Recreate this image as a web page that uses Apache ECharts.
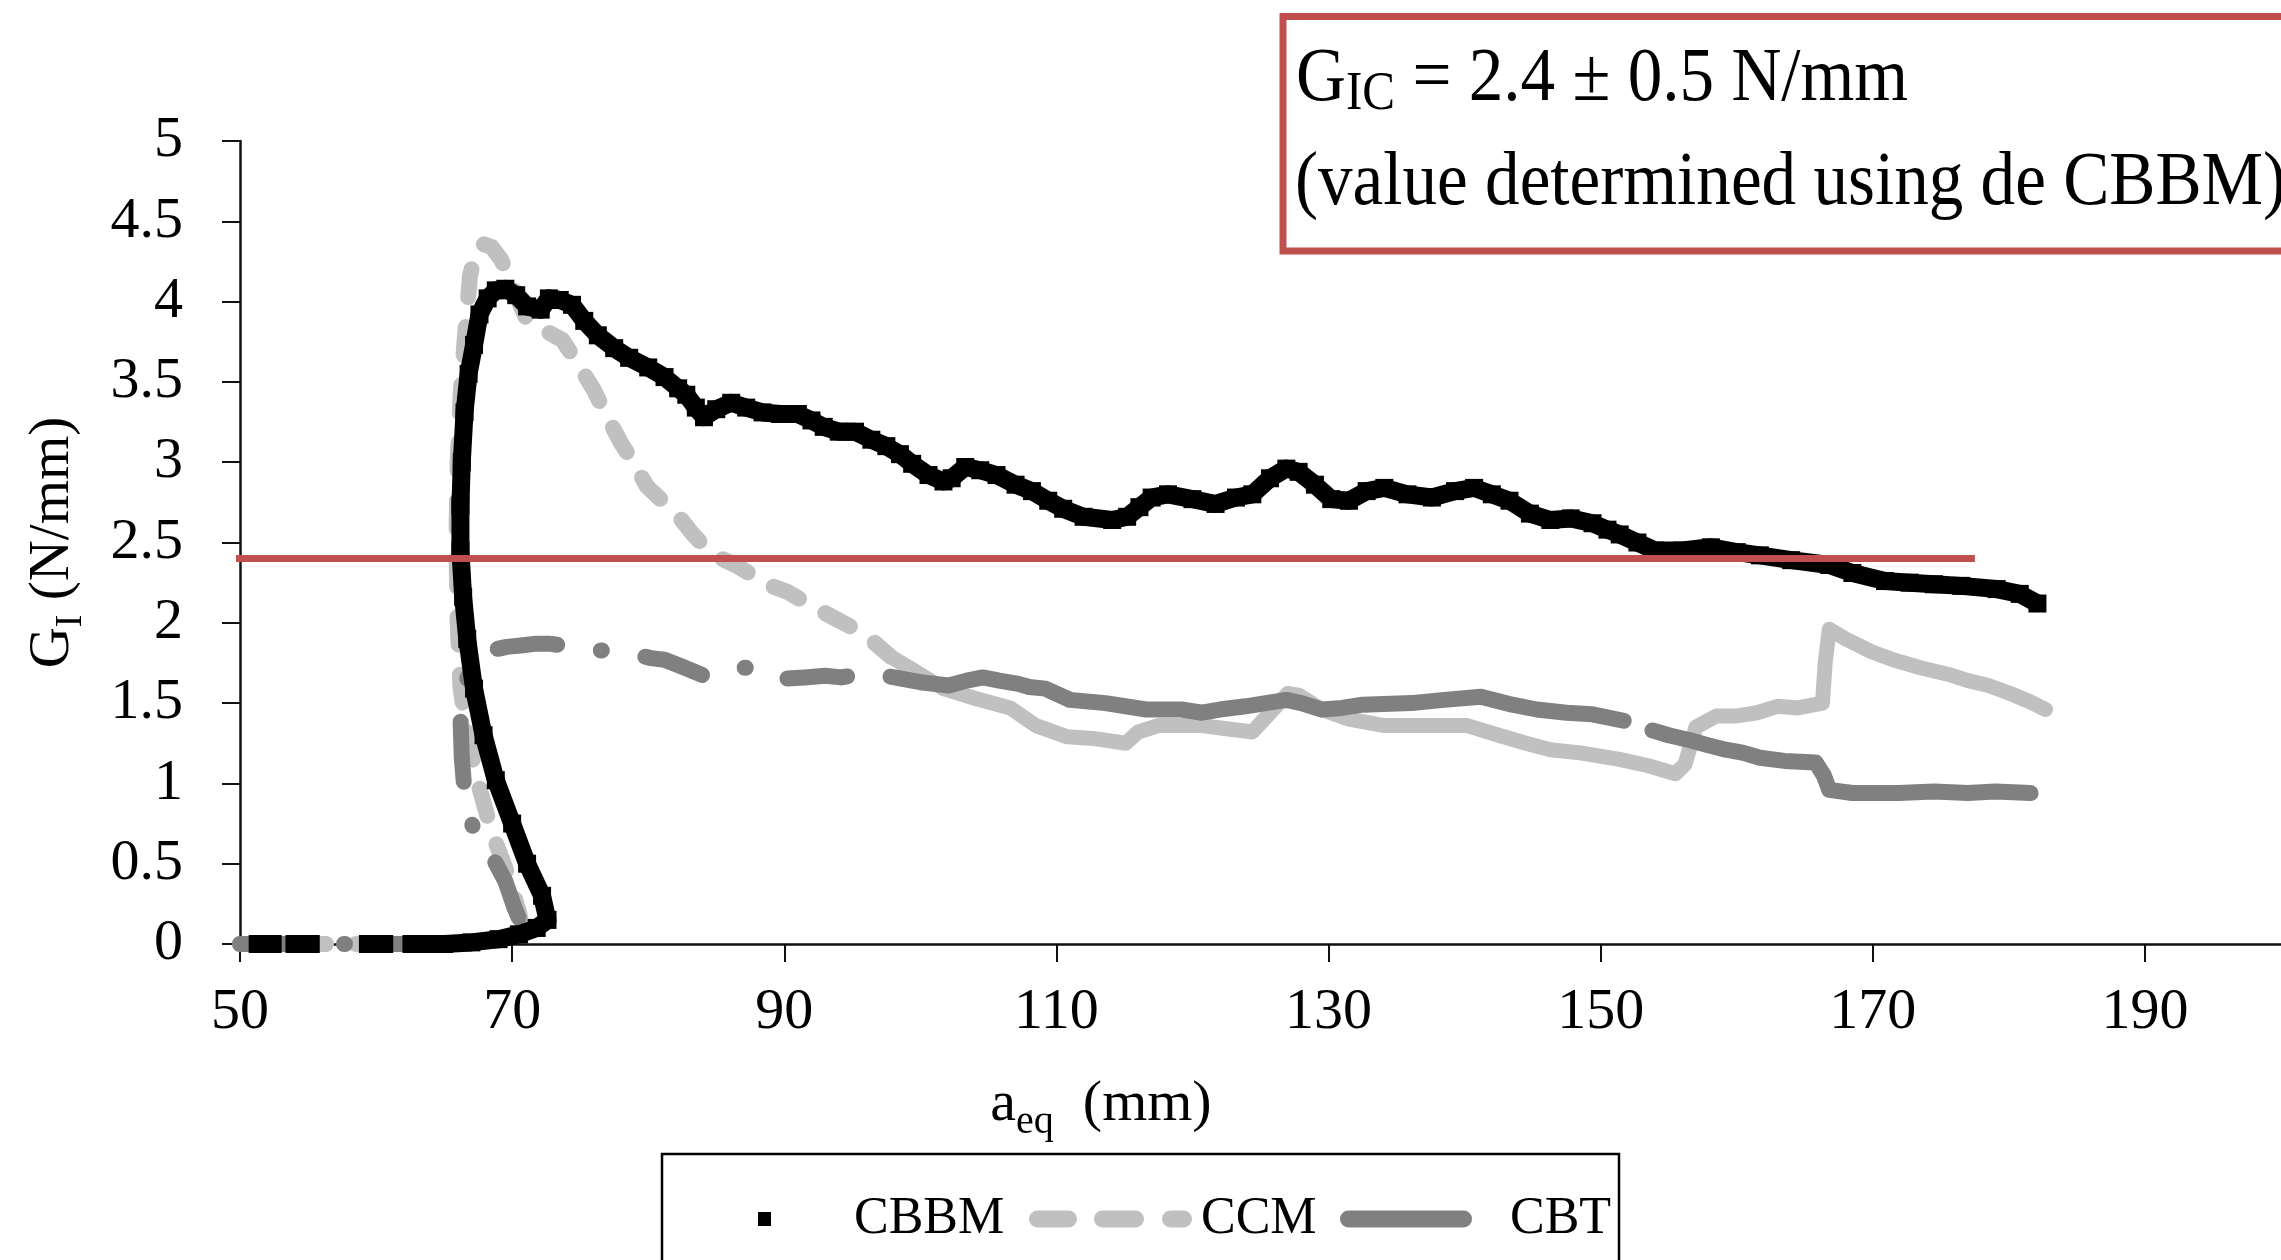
<!DOCTYPE html>
<html><head><meta charset="utf-8">
<script src="https://cdn.jsdelivr.net/npm/echarts@6/dist/echarts.min.js"></script>
<style>html,body{margin:0;padding:0;background:#fff}#c{width:2281px;height:1260px}</style>
</head><body><div id="c"></div>
<script>
// ---------- data ----------
const xTicks = [50, 70, 90, 110, 130, 150, 170, 190];
const gIC = 2.4;
const refLineX = [46.5, 177.5];

// CBBM (black squares)
const cbbmX = [51.3, 52.4, 53.2, 54.0, 55.2, 57.3, 59.4, 60.6, 61.6,
  62.6, 65.0, 67.0, 69.0, 70.5, 71.8, 72.6, 72.2, 71.1, 70.0, 68.8, 67.9, 67.2, 66.7, 66.4, 66.2, 66.2,
  66.3, 66.5, 66.8, 67.2, 67.6, 68.2, 68.8, 69.5, 70.3, 71.1, 72.1, 72.7, 73.5, 74.4, 75.3, 76.3, 77.5,
  78.6, 80.0, 81.2, 82.2, 82.8, 83.5, 84.1, 85.0, 86.1, 87.2, 88.4, 89.7, 91.0, 92.0, 92.9, 94.0, 95.2,
  96.4, 97.5, 98.5, 99.4, 100.6, 101.7, 102.3, 103.3, 104.4, 105.6, 107.0, 108.2, 109.4, 110.5, 112.0,
  114.1, 115.2, 116.1, 117.0, 118.2, 120.0, 121.7, 123.2, 124.4, 125.7, 126.9, 127.8, 129.0, 130.2,
  131.5, 132.8, 134.1, 135.8, 137.6, 139.3, 140.7, 142.0, 143.3, 144.8, 146.3, 147.8, 149.4, 150.5,
  151.4, 152.7, 154.0, 156.0, 158.1, 160.0, 161.7, 164.0, 166.8, 168.5, 170.9, 172.7, 174.5, 176.5,
  179.1, 180.8, 182.1];
const cbbmY = [0, 0, null, 0, 0, null, 0, 0, null,
  0, 0, 0.01, 0.03, 0.06, 0.1, 0.15, 0.3, 0.5, 0.75, 1.02, 1.3, 1.59, 1.9, 2.16, 2.45, 2.73,
  3.0, 3.31, 3.55, 3.73, 3.92, 4.02, 4.07, 4.08, 4.04, 3.97, 3.95, 4.02, 4.01, 3.98, 3.88, 3.79, 3.71,
  3.65, 3.59, 3.53, 3.46, 3.42, 3.34, 3.28, 3.33, 3.37, 3.34, 3.31, 3.30, 3.30, 3.26, 3.22, 3.19, 3.19,
  3.14, 3.10, 3.05, 2.99, 2.92, 2.88, 2.90, 2.97, 2.95, 2.92, 2.86, 2.82, 2.76, 2.71, 2.66,
  2.64, 2.66, 2.72, 2.78, 2.80, 2.77, 2.74, 2.78, 2.80, 2.90, 2.96, 2.94, 2.86, 2.77,
  2.76, 2.82, 2.84, 2.80, 2.78, 2.82, 2.84, 2.80, 2.76, 2.68, 2.64, 2.65, 2.62, 2.58,
  2.55, 2.50, 2.45, 2.45, 2.47, 2.44, 2.42, 2.39, 2.36, 2.31, 2.26, 2.25, 2.24, 2.23,
  2.21, 2.18, 2.12];

// CCM (light grey, dashed) - early dashed portion and later dense portion
const ccmDashX = [50, 56, 62, 66, 69, 70.8, 70.5, 69.6, 68.5, 67.5, 66.7, 66.2, 66.0, 65.9, 66.0, 66.2,
  66.5, 66.9, 67.3, 67.8, 68.5, 69.2, 69.8, 70.5, 71.1, 72.4, 73.7, 75.0, 76.0, 77.0, 78.0, 78.9, 79.9,
  80.9, 81.9, 83.2, 84.4, 85.4, 86.4, 87.4, 88.4, 90.3, 91.9, 93.9, 95.9, 97.8];
const ccmDashY = [0, 0, 0, 0, 0.02, 0.08, 0.2, 0.45, 0.7, 1.0, 1.3, 1.6, 2.0, 2.5, 3.0, 3.4,
  3.75, 4.16, 4.3, 4.36, 4.34, 4.26, 4.15, 4.0, 3.88, 3.82, 3.76, 3.59, 3.45, 3.28, 3.12, 3.0, 2.85,
  2.77, 2.70, 2.56, 2.45, 2.40, 2.36, 2.31, 2.25, 2.19, 2.11, 2.02, 1.93, 1.79];
const ccmSolidX = [97.8, 99.4, 101.7, 104.0, 106.6, 108.5, 110.8, 112.7, 115.1, 116.0, 117.5, 120.7,
  122.5, 124.4, 125.5, 127.0, 127.8, 129.5, 131.5, 134.1, 137.0, 140.2, 142.5, 144.5, 146.3, 148.5,
  151.4, 153.5, 155.5, 156.2, 157.0, 158.5, 160.0, 161.5, 163.0, 164.5, 166.3, 166.5, 166.8, 168.0,
  169.9, 171.5, 173.5, 175.5, 177.0, 178.5, 180.1, 181.5, 182.7];
const ccmSolidY = [1.79, 1.71, 1.59, 1.53, 1.47, 1.36, 1.29, 1.28, 1.25, 1.32, 1.36, 1.36,
  1.34, 1.32, 1.42, 1.56, 1.55, 1.46, 1.40, 1.36, 1.36, 1.36, 1.30, 1.25, 1.21, 1.19,
  1.15, 1.11, 1.06, 1.12, 1.35, 1.42, 1.42, 1.44, 1.48, 1.47, 1.50, 1.75, 1.96, 1.90,
  1.82, 1.77, 1.72, 1.68, 1.64, 1.61, 1.56, 1.51, 1.46];

// CBT (dark grey, dash-dot) - early dash-dot portion and later dense portion
const cbtDashX = [50, 56, 62, 67, 69.5, 70.8, 70.2, 69.5, 68.5, 67.4, 66.9, 66.5, 66.3, 66.2, 66.5,
  66.9, 67.6, 68.5, 69.6, 70.8, 71.8, 72.7, 74.5, 76.2, 77.7, 79.2, 80.2, 81.2, 82.7, 84.1, 86.0,
  87.7, 88.7, 89.7, 91.5, 93.0, 94.2, 96.2, 98.1];
const cbtDashY = [0, 0, 0, 0, 0.03, 0.1, 0.22, 0.39, 0.55, 0.65, 0.79, 0.95, 1.16, 1.42, 1.6,
  1.71, 1.78, 1.83, 1.85, 1.86, 1.87, 1.87, 1.85, 1.83, 1.82, 1.80, 1.78, 1.77, 1.72, 1.67, 1.72,
  1.72, 1.68, 1.65, 1.66, 1.67, 1.66, 1.69, 1.66];
const cbtSolidX = [98.1, 100.0, 102.1, 103.4, 104.6, 105.8, 107.2, 108.0, 109.2, 111.0, 113.6, 116.6,
  119.2, 120.7, 122.0, 123.9, 126.9, 128.0, 129.5, 131.0, 132.5, 136.1, 138.5, 141.2, 143.5, 145.3,
  147.5, 149.4, 151.7, 152.7, 153.8, 155.0, 156.5, 157.8, 159.2, 160.5, 161.7, 163.5, 165.8, 166.4,
  166.8, 168.5, 171.9, 174.5, 177.0, 179.0, 181.6];
const cbtSolidY = [1.66, 1.63, 1.61, 1.64, 1.66, 1.64, 1.62, 1.60, 1.59, 1.52, 1.50, 1.46,
  1.46, 1.44, 1.46, 1.48, 1.52, 1.50, 1.46, 1.47, 1.49, 1.50, 1.52, 1.54, 1.49, 1.46,
  1.44, 1.43, 1.39, null, 1.33, 1.30, 1.27, 1.24, 1.21, 1.19, 1.16, 1.14, 1.13, 1.05,
  0.96, 0.94, 0.94, 0.95, 0.94, 0.95, 0.94];

// ---------- build ----------
const pairs = (xs, ys) => xs.map((x, i) => [x, ys[i] == null ? '-' : ys[i]]);
const SERIF = "'Liberation Serif','Times New Roman',serif";
const C_CBBM = '#000000', C_CCM = '#c0c0c0', C_CBT = '#808080', C_RED = '#c0504d';

const chart = echarts.init(document.getElementById('c'), null, {renderer: 'canvas'});

const dashPath = (segs, h) => {
  const r = h / 2;
  return 'path://' + segs.map(([a, b]) =>
    `M${a + r},0 L${b - r},0 A${r},${r} 0 0 1 ${b - r},${h} L${a + r},${h} A${r},${r} 0 0 1 ${a + r},0 Z`
  ).join(' ');
};

const legendBase = {
  orient: 'horizontal', padding: 0, selectedMode: false,
  textStyle: {fontFamily: SERIF, fontSize: 52, color: '#000'}
};

chart.setOption({
  animation: false,
  backgroundColor: '#ffffff',
  grid: {left: 240, top: 141, width: 2057, height: 803, containLabel: false},
  xAxis: {
    type: 'value', min: 50, max: 200, interval: 20,
    name: '{a|a}{s|eq}{a|  (mm)}', nameLocation: 'middle', nameGap: 132,
    nameTextStyle: {
      padding: [0, 319, 0, 0],
      rich: {
        a: {fontFamily: SERIF, fontSize: 58, color: '#000', verticalAlign: 'top'},
        s: {fontFamily: SERIF, fontSize: 40, color: '#000', verticalAlign: 'top', padding: [26, 0, 0, 0]}
      }
    },
    axisLine: {show: true, onZero: false, lineStyle: {color: '#111', width: 2.5}},
    axisTick: {show: true, length: 18, lineStyle: {color: '#111', width: 2}, customValues: xTicks},
    axisLabel: {margin: 40, fontFamily: SERIF, fontSize: 58, color: '#000', customValues: xTicks},
    splitLine: {show: false}
  },
  yAxis: {
    type: 'value', min: 0, max: 5, interval: 0.5,
    name: '{g|G}{s|I}{g| (N/mm)}', nameLocation: 'middle', nameRotate: 90, nameGap: 150,
    nameTextStyle: {
      rich: {
        g: {fontFamily: SERIF, fontSize: 57, color: '#000', verticalAlign: 'top'},
        s: {fontFamily: SERIF, fontSize: 38, color: '#000', verticalAlign: 'top', padding: [27, 0, 0, 0]}
      }
    },
    axisLine: {show: true, lineStyle: {color: '#111', width: 2.5}},
    axisTick: {show: true, length: 18, lineStyle: {color: '#111', width: 2}},
    axisLabel: {margin: 57, fontFamily: SERIF, fontSize: 58, color: '#000'},
    splitLine: {show: false}
  },
  legend: [
    Object.assign({}, legendBase, {
      left: 758, top: 1193, itemWidth: 13, itemHeight: 14,
      textStyle: Object.assign({}, legendBase.textStyle, {padding: [0, 0, 0, 78]}),
      data: [{name: 'CBBM', icon: 'rect', itemStyle: {color: C_CBBM, borderWidth: 0}}]
    }),
    Object.assign({}, legendBase, {
      left: 1029, top: 1193, itemWidth: 163, itemHeight: 17,
      textStyle: Object.assign({}, legendBase.textStyle, {padding: [0, 0, 0, 4]}),
      data: [{name: 'CCM', icon: dashPath([[0, 48], [65, 115], [133, 163]], 17), itemStyle: {color: C_CCM, borderWidth: 0}}]
    }),
    Object.assign({}, legendBase, {
      left: 1340, top: 1193, itemWidth: 132, itemHeight: 17,
      textStyle: Object.assign({}, legendBase.textStyle, {padding: [0, 0, 0, 33]}),
      data: [{name: 'CBT', icon: dashPath([[0, 132]], 17), itemStyle: {color: C_CBT, borderWidth: 0}}]
    })
  ],
  graphic: [
    {type: 'rect', silent: true, z: -1, shape: {x: 662, y: 1154, width: 957, height: 200},
      style: {fill: '#fff', stroke: '#000', lineWidth: 2.5}},
    {type: 'rect', silent: true, z: 50, shape: {x: 1283, y: 16.5, width: 1100, height: 234.5},
      style: {fill: '#fff', stroke: C_RED, lineWidth: 7}},
    {type: 'text', silent: true, z: 51, x: 1296, y: 42, scaleX: 0.91,
      style: {
        text: '{m|G}{s|IC}{m| = 2.4 ± 0.5 N/mm}',
        rich: {
          m: {fontFamily: SERIF, fontSize: 76, fill: '#000', verticalAlign: 'top'},
          s: {fontFamily: SERIF, fontSize: 54, fill: '#000', verticalAlign: 'top', padding: [26, 0, 0, 0]}
        }
      }},
    {type: 'text', silent: true, z: 51, x: 1295, y: 146, scaleX: 0.91,
      style: {text: '(value determined using de CBBM)', font: '76px ' + SERIF, fill: '#000'}}
  ],
  series: [
    {name: 'CCM', type: 'line', data: pairs(ccmDashX, ccmDashY), showSymbol: false, symbol: 'none',
      itemStyle: {color: C_CCM}, connectNulls: false,
      lineStyle: {color: C_CCM, width: 16, type: [28, 30], cap: 'round', join: 'round'}},
    {name: 'CCM', type: 'line', data: pairs(ccmSolidX, ccmSolidY), showSymbol: false, symbol: 'none',
      itemStyle: {color: C_CCM},
      lineStyle: {color: C_CCM, width: 15, cap: 'round', join: 'round'}},
    {name: 'CBT', type: 'line', data: pairs(cbtDashX, cbtDashY), showSymbol: false, symbol: 'none',
      itemStyle: {color: C_CBT},
      lineStyle: {color: C_CBT, width: 16, type: [60, 44, 1, 44], cap: 'round', join: 'round'}},
    {name: 'CBT', type: 'line', data: pairs(cbtSolidX, cbtSolidY), showSymbol: false, symbol: 'none',
      itemStyle: {color: C_CBT}, connectNulls: false,
      lineStyle: {color: C_CBT, width: 16, cap: 'round', join: 'round'}},
    {name: 'CBBM', type: 'line', data: pairs(cbbmX, cbbmY), symbol: 'rect', symbolSize: 18,
      showSymbol: true, connectNulls: false,
      itemStyle: {color: C_CBBM, borderWidth: 0},
      lineStyle: {color: C_CBBM, width: 18, join: 'round'}},
    {name: 'GIC', type: 'line', data: refLineX.map(x => [x, gIC]), symbol: 'none', clip: false,
      silent: true, z: 10, lineStyle: {color: C_RED, width: 7}}
  ]
});
</script></body></html>
